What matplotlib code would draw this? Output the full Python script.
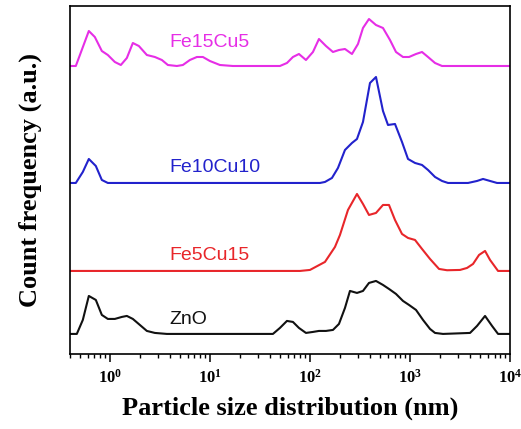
import numpy as np
import matplotlib
matplotlib.use('Agg')
import matplotlib.pyplot as plt

# tick labels (10^n) in bold Times-like font
plt.rcParams['font.family'] = 'Liberation Serif'
plt.rcParams['font.weight'] = 'bold'
plt.rcParams['mathtext.fontset'] = 'custom'
plt.rcParams['mathtext.rm'] = 'Liberation Serif:bold'
plt.rcParams['mathtext.bf'] = 'Liberation Serif:bold'
plt.rcParams['mathtext.it'] = 'Liberation Serif:italic:bold'

# x positions read as log10(size in nm), heights in arbitrary counts
zno_logx = [-0.41, -0.33, -0.27, -0.21, -0.14, -0.08, -0.02, 0.05, 0.12, 0.17, 0.23, 0.30, 0.37, 0.45, 0.57,
            1.63, 1.70, 1.77, 1.83, 1.89, 1.96, 2.03, 2.09, 2.16, 2.23, 2.29, 2.35, 2.40, 2.47, 2.53, 2.59,
            2.66, 2.73, 2.79, 2.86, 2.93, 2.99, 3.06, 3.13, 3.20, 3.25, 3.33, 3.60, 3.67, 3.75, 3.82, 3.88, 4.0]
zno_y = [0, 0, 14, 38, 34, 19, 15, 15, 17, 18, 15, 9, 3, 1, 0,
         0, 6, 13, 12, 6, 1, 2, 3, 3, 4, 10, 26, 43, 41, 43, 51,
         53, 49, 45, 40, 33, 29, 24, 14, 5, 1, 0, 1, 8, 18, 8, 0, 0]

fe5_logx = [-0.41, 1.90, 2.00, 2.15, 2.25, 2.30, 2.38, 2.47, 2.53, 2.59, 2.66, 2.73, 2.79, 2.85, 2.92,
            2.98, 3.05, 3.12, 3.20, 3.29, 3.37, 3.50, 3.57, 3.63, 3.69, 3.75, 3.80, 3.88, 4.0]
fe5_y = [0, 0, 1, 9, 24, 36, 61, 77, 67, 56, 58, 66, 66, 51, 37,
         33, 31, 22, 12, 2, 0.7, 1, 3, 7, 16, 20, 11, 0, 0]

fe10_logx = [-0.41, -0.34, -0.27, -0.21, -0.14, -0.08, -0.02, 2.10, 2.15, 2.22, 2.28, 2.35, 2.42, 2.47,
             2.53, 2.60, 2.66, 2.73, 2.78, 2.85, 2.92, 2.98, 3.05, 3.12, 3.18, 3.25, 3.32, 3.38, 3.58,
             3.67, 3.73, 3.80, 3.87, 4.0]
fe10_y = [0, 0, 11, 24, 17, 3, 0, 0, 1, 5, 15, 33, 40, 44,
          61, 100, 106, 72, 58, 59, 41, 24, 20, 18, 13, 6, 2, 0, 0,
          2, 4, 2, 0, 0]

fe15_logx = [-0.41, -0.34, -0.21, -0.15, -0.08, -0.02, 0.05, 0.11, 0.17, 0.23, 0.29, 0.37, 0.45, 0.52,
             0.58, 0.67, 0.73, 0.80, 0.87, 0.93, 1.00, 1.10, 1.23, 1.70, 1.77, 1.83, 1.89, 1.96, 2.03,
             2.09, 2.16, 2.23, 2.29, 2.35, 2.42, 2.48, 2.53, 2.59, 2.66, 2.73, 2.80, 2.86, 2.93, 2.99,
             3.06, 3.12, 3.18, 3.25, 3.32, 4.0]
fe15_y = [0, 0, 35, 29, 15, 11, 4, 1, 8, 23, 20, 11, 9, 6,
          1, 0, 1, 6, 9, 9, 5, 1, 0, 0, 3, 9, 12, 6, 14,
          27, 20, 14, 16, 17, 12, 22, 38, 47, 41, 38, 26, 14, 9, 9,
          12, 14, 9, 3, 0, 0]

names = ['ZnO', 'Fe5Cu15', 'Fe10Cu10', 'Fe15Cu5']
colors = ['#111111', '#e8262a', '#2222cc', '#e62ee6']
offsets = [20, 83, 171, 288]

fig = plt.figure(figsize=(5.21, 4.29), dpi=100)
ax = fig.add_axes([0.134, 0.175, 0.845, 0.811])

series = [(zno_logx, zno_y), (fe5_logx, fe5_y), (fe10_logx, fe10_y), (fe15_logx, fe15_y)]
label_y = [14, 15, 15, 23]
for (lx, yy), name, c, off, ly in zip(series, names, colors, offsets, label_y):
    ax.plot(10 ** np.array(lx), np.array(yy) + off, color=c, lw=1.5)
    ax.text(3.9, off + ly, name, color=c, fontsize=14, family='Liberation Sans',
            fontweight='normal', va='center')

ax.set_xscale('log')
ax.set_xlim(10 ** -0.4, 1e4)
ax.set_ylim(0, 348)
ax.set_yticks([])
for s in ax.spines.values():
    s.set_linewidth(1.2)
ax.tick_params(axis='x', which='major', direction='out', length=6, width=1.1, labelsize=12, pad=5)
ax.tick_params(axis='x', which='minor', direction='out', length=3, width=1.0)

ax.set_xlabel('Particle size distribution (nm)', fontsize=19, fontweight='bold', labelpad=7)
ax.set_ylabel('Count frequency (a.u.)', fontsize=19, fontweight='bold', labelpad=20)

fig.savefig('out.png', dpi=100)
